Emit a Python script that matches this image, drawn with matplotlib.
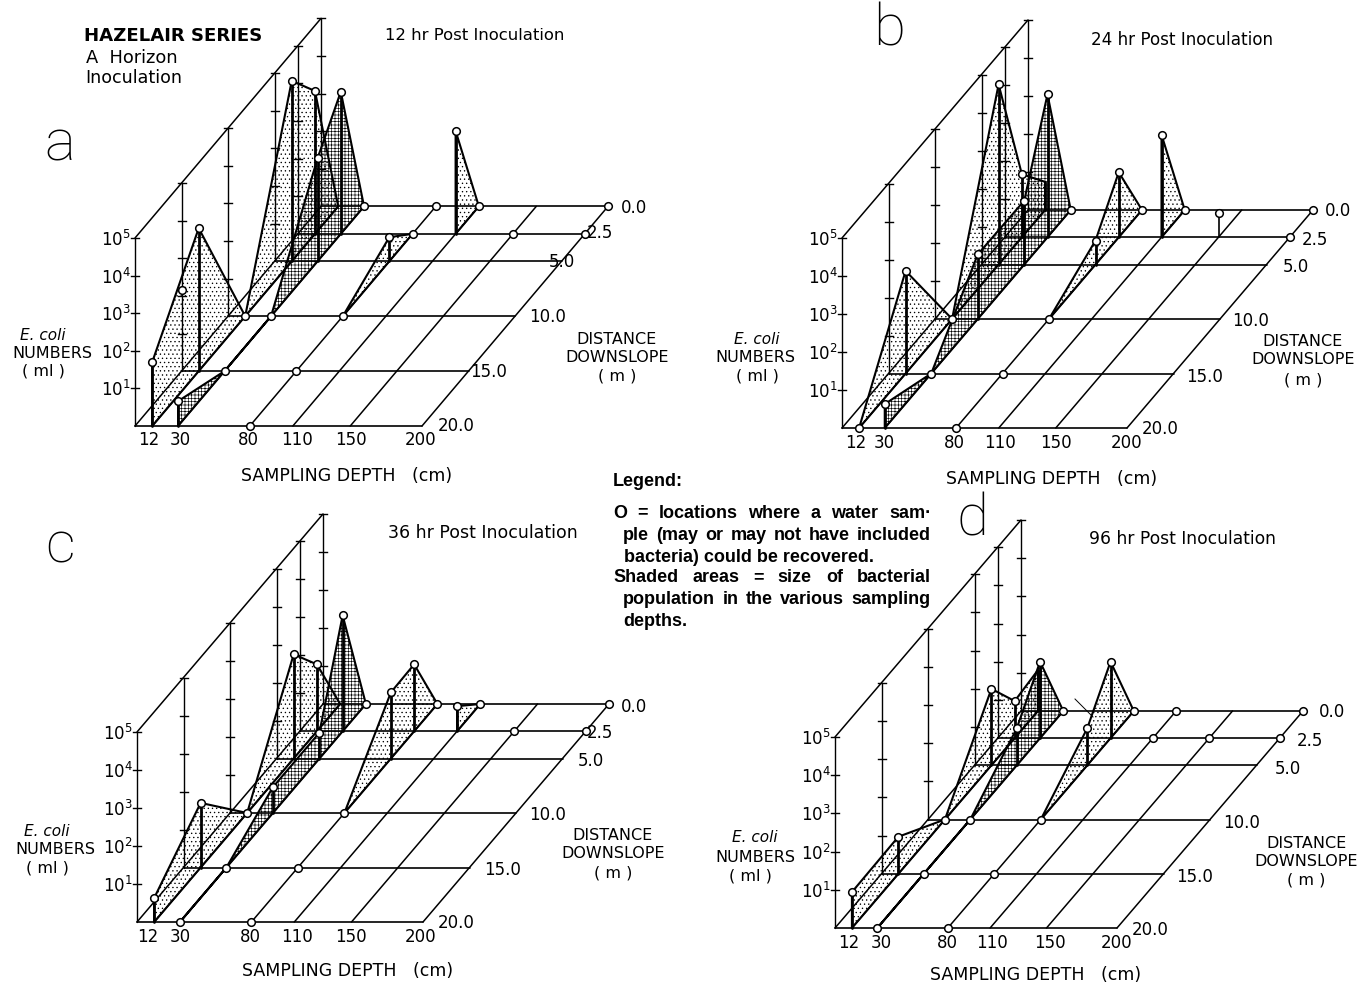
import matplotlib
matplotlib.use('Agg')
import matplotlib.pyplot as plt
from matplotlib.patches import Polygon

plt.rcParams['font.family'] = ['DejaVu Sans']
plt.rcParams['mathtext.fontset'] = 'dejavusans'
plt.rcParams['hatch.linewidth'] = 0.45

# axis values
depths = [0, 12, 30, 80, 110, 150, 200]
depth_labels = ['12', '30', '80', '110', '150', '200']
distances = [0.0, 2.5, 5.0, 10.0, 15.0, 20.0]
distance_labels = ['0.0', '2.5', '5.0', '10.0', '15.0', '20.0']
decades = [1, 2, 3, 4, 5]

# (depth, distance downslope, log10 numbers)
a_profiles = [
    (110, [2.5, 0], [2.74, 0]),
    (80, [10, 5, 2.5], [0, 0.64, 0]),
    (30, [20, 15, 10, 5, 2.5, 0], [0.66, 0, 0, 2.74, 3.78, 0]),
    (12, [20, 15, 10, 5, 2.5, 0], [1.7, 3.8, 0, 4.8, 3.8, 0]),
]
a_circles = [
    (12, 20, 1.7), (0, 15, 2.15), (12, 15, 3.8), (12, 10, 0), (12, 5, 4.8), (12, 2.5, 3.8),
    (30, 20, 0.66), (30, 15, 0), (30, 10, 0), (30, 5, 2.74), (30, 2.5, 3.78), (30, 0, 0),
    (80, 20, 0), (80, 15, 0), (80, 10, 0), (80, 5, 0.64), (80, 2.5, 0), (80, 0, 0),
    (110, 2.5, 2.74), (110, 0, 0), (150, 2.5, 0), (200, 2.5, 0), (200, 0, 0),
]

b_profiles = [
    (110, [2.5, 0], [2.7, 0]),
    (80, [10, 5, 2.5, 0], [0, 0.63, 1.71, 0]),
    (30, [20, 15, 10, 5, 2.5, 0], [0.63, 0, 1.7, 1.68, 3.76, 0]),
    (12, [20, 15, 10, 5, 2.5, 0], [0, 2.7, 0, 4.74, 1.66, 0.74]),
]
b_circles = [
    (12, 20, 0), (12, 15, 2.7), (12, 10, 0), (12, 5, 4.74), (12, 2.5, 1.66),
    (30, 20, 0.63), (30, 15, 0), (30, 10, 1.7), (30, 5, 1.68), (30, 2.5, 3.76), (30, 0, 0),
    (80, 20, 0), (80, 15, 0), (80, 10, 0), (80, 5, 0.63), (80, 2.5, 1.71), (80, 0, 0),
    (110, 2.5, 2.7), (110, 0, 0), (150, 2.5, 0.65), (200, 2.5, 0), (200, 0, 0),
]
b_stems = [(150, 2.5, 0.65)]

c_profiles = [
    (110, [2.5, 0], [0.66, 0]),
    (80, [10, 5, 2.5, 0], [0, 1.74, 1.76, 0]),
    (30, [20, 15, 10, 5, 2.5, 0], [0, 0, 0.68, 0.68, 3.05, 0]),
    (12, [20, 15, 10, 5, 2.5, 0], [0.63, 1.7, 0, 2.74, 1.76, 0]),
]
c_circles = [
    (12, 20, 0.63), (12, 15, 1.7), (12, 10, 0), (12, 5, 2.74), (12, 2.5, 1.76),
    (30, 20, 0), (30, 15, 0), (30, 10, 0.68), (30, 5, 0.68), (30, 2.5, 3.05), (30, 0, 0),
    (80, 20, 0), (80, 15, 0), (80, 10, 0), (80, 5, 1.74), (80, 2.5, 1.76), (80, 0, 0),
    (110, 2.5, 0.66), (110, 0, 0), (150, 2.5, 0), (200, 2.5, 0), (200, 0, 0),
]

d_profiles = [
    (80, [10, 5, 2.5, 0], [0, 0.97, 2.0, 0]),
    (30, [20, 15, 10, 5, 2.5, 0], [0, 0, 0, 0.97, 2.0, 0]),
    (12, [20, 15, 10, 5, 2.5, 0], [0.94, 0.97, 0, 2.0, 0.97, 1.07]),
]
d_circles = [
    (12, 20, 0.94), (12, 15, 0.97), (12, 10, 0), (12, 5, 2.0), (12, 2.5, 0.97),
    (30, 20, 0), (30, 15, 0), (30, 10, 0), (30, 5, 0.97), (30, 2.5, 2.0), (30, 0, 0),
    (80, 20, 0), (80, 15, 0), (80, 10, 0), (80, 5, 0.97), (80, 2.5, 2.0), (80, 0, 0),
    (110, 2.5, 0), (110, 0, 0), (150, 2.5, 0), (200, 2.5, 0), (200, 0, 0),
]

titles = ['12 hr Post Inoculation', '24 hr Post Inoculation', '36 hr Post Inoculation', '96 hr Post Inoculation']
panel_letters = ['a', 'b', 'c', 'd']

legend_lines = [
    ('O = locations where a water sam·', 613, 931, 513),
    ('ple (may or may not have included', 623, 931, 535),
    ('bacteria) could be recovered.', 624, None, 557),
    ('Shaded areas = size of bacterial', 613, 931, 578),
    ('population in the various sampling', 623, 931, 599),
    ('depths.', 623, None, 621),
]

# layout of each panel, in figure pixels
panels = [
    dict(x0=135, y0=426, kd=1.435, kx=9.3, ky=10.98, kz=37.6,
         profiles=a_profiles, circles=a_circles, stems=[],
         title=(385, 35, 179), letter=(60, 145),
         depth_x=[149, 180, 248, 297, 351, 421], depth_y=440,
         dist_xy=[(634, 208), (600, 233), (562, 262), (548, 317), (489, 372), (456, 426)],
         xlabel=(347, 476), ecoli=(43, 336), numbers=(52, 353), ml=(43, 371),
         dlabel=(617, 339), dlabel2=(617, 357), dm=(617, 376)),
    dict(x0=842, y0=428, kd=1.425, kx=9.3, ky=10.9, kz=38,
         profiles=b_profiles, circles=b_circles, stems=b_stems,
         title=(1091, 40, 182), letter=(889, 30),
         depth_x=[856, 884, 954, 1000, 1056, 1127], depth_y=443,
         dist_xy=[(1338, 211), (1315, 240), (1296, 267), (1251, 321), (1205, 377), (1160, 429)],
         xlabel=(1052, 479), ecoli=(757, 339), numbers=(755, 358), ml=(757, 376),
         dlabel=(1303, 342), dlabel2=(1303, 360), dm=(1303, 380)),
    dict(x0=137, y0=922, kd=1.43, kx=9.3, ky=10.9, kz=38,
         profiles=c_profiles, circles=c_circles, stems=[],
         title=(388, 533, 189), letter=(60, 547),
         depth_x=[148, 180, 250, 297, 351, 421], depth_y=937,
         dist_xy=[(634, 707), (600, 733), (591, 761), (548, 815), (503, 870), (456, 923)],
         xlabel=(348, 971), ecoli=(47, 832), numbers=(55, 850), ml=(47, 868),
         dlabel=(613, 836), dlabel2=(613, 854), dm=(613, 873)),
    dict(x0=835, y0=928, kd=1.41, kx=9.3, ky=10.85, kz=38.2,
         profiles=d_profiles, circles=d_circles, stems=[],
         title=(1089, 539, 186), letter=(972, 520),
         depth_x=[849, 881, 947, 992, 1050, 1117], depth_y=943,
         dist_xy=[(1332, 712), (1310, 741), (1288, 769), (1242, 823), (1195, 877), (1150, 930)],
         xlabel=(1036, 975), ecoli=(755, 838), numbers=(755, 857), ml=(750, 876),
         dlabel=(1306, 844), dlabel2=(1306, 861), dm=(1306, 880)),
]


def project(p, depth, dist, z=0):
    # oblique projection of (depth, distance, log count) onto the page
    x = p['x0'] + p['kd'] * depth + p['kx'] * (20 - dist)
    y = p['y0'] - p['ky'] * (20 - dist) - p['kz'] * z
    return x, y


def line3d(ax, p, pts, lw=1.0):
    xs, ys = zip(*[project(p, *q) for q in pts])
    ax.plot(xs, ys, color='black', lw=lw, solid_capstyle='round', zorder=3)


def put_width(ax, x, y, s, width, **kw):
    # shrink or grow the font so a line of text fills its printed width
    t = ax.text(x, y, s, ha='left', va='center', **kw)
    w = t.get_window_extent(renderer).width
    t.set_fontsize(t.get_fontsize() * width / w)
    return t


fig = plt.figure(figsize=(13.72, 9.85), dpi=100, facecolor='white')
ax = fig.add_axes([0, 0, 1, 1])
ax.set_xlim(0, 1372)
ax.set_ylim(985, 0)
ax.axis('off')
renderer = fig.canvas.get_renderer()

for i, p in enumerate(panels):
    # floor grid
    for d in depths:
        line3d(ax, p, [(d, 20), (d, 0)], 1.1)
    for s in distances:
        line3d(ax, p, [(0, s), (200, s)], 1.2)

    # back wall with decade ticks
    line3d(ax, p, [(0, 20, 5), (0, 0, 5)], 1.1)
    for s in [20, 15, 10, 5, 2.5, 0]:
        line3d(ax, p, [(0, s, 0), (0, s, 5)], 1.0)
        for z in decades:
            x, y = project(p, 0, s, z)
            ax.plot([x - 4, x + 4], [y, y], color='black', lw=1.0, zorder=3)

    # bacterial population sheets
    for depth, ss, zs in p['profiles']:
        verts = [project(p, depth, s, z) for s, z in zip(ss, zs)]
        verts += [project(p, depth, ss[-1]), project(p, depth, ss[0])]
        hatch = '+++++' if depth == 30 else '....'
        ax.add_patch(Polygon(verts, closed=True, facecolor='none', edgecolor='black',
                             hatch=hatch, lw=1.5, zorder=4))
        for s, z in zip(ss, zs):
            if z > 0:
                line3d(ax, p, [(depth, s, 0), (depth, s, z)], 2.0)
    for depth, s, z in p['stems']:
        line3d(ax, p, [(depth, s, 0), (depth, s, z)], 1.2)

    # sampling locations
    cx, cy = zip(*[project(p, *c) for c in p['circles']])
    ax.plot(cx, cy, 'o', ms=5.5, mfc='white', mec='black', mew=1.1, ls='none', zorder=6)

    # text
    tx, ty, tw = p['title']
    put_width(ax, tx, ty, titles[i], tw, fontsize=10)
    ax.text(*p['letter'], panel_letters[i], family='Roboto', fontweight='light', fontsize=42,
            ha='center', va='center')
    for x, lab in zip(p['depth_x'], depth_labels):
        ax.text(x, p['depth_y'], lab, fontsize=12, ha='center', va='center')
    for (x, y), lab in zip(p['dist_xy'], distance_labels):
        ax.text(x, y, lab, fontsize=12, ha='center', va='center')
    for z in decades:
        x, y = project(p, 0, 20, z)
        ax.text(x - 4, y + 2, r'$\mathregular{10^{%d}}$' % z, fontsize=12, ha='right', va='center')
    ax.text(*p['xlabel'], 'SAMPLING DEPTH   (cm)', fontsize=12.5, ha='center', va='center')
    ax.text(*p['ecoli'], 'E. coli', fontsize=11, style='italic', ha='center', va='center')
    ax.text(*p['numbers'], 'NUMBERS', fontsize=11.5, ha='center', va='center')
    ax.text(*p['ml'], '( ml )', fontsize=11.5, ha='center', va='center')
    ax.text(*p['dlabel'], 'DISTANCE', fontsize=11.5, ha='center', va='center')
    ax.text(*p['dlabel2'], 'DOWNSLOPE', fontsize=11.5, ha='center', va='center')
    ax.text(*p['dm'], '( m )', fontsize=11.5, ha='center', va='center')

# series name, panel a
put_width(ax, 84, 36, 'HAZELAIR SERIES', 178, fontsize=12, fontweight='bold')
put_width(ax, 86, 58, 'A  Horizon', 92, fontsize=11)
put_width(ax, 85, 78, 'Inoculation', 97, fontsize=11)

# stray pointer stroke printed in panel d
ax.plot([1075, 1093], [699, 717], color='black', lw=0.7, zorder=3)

# legend block, justified like the printed column
ax.text(613, 482, 'Legend:', family='Liberation Sans', fontweight='bold', fontsize=13,
        ha='left', va='center')
for line, x0, x1, y in legend_lines:
    if x1 is None:
        ax.text(x0, y, line, family='Liberation Sans', fontweight='bold', fontsize=13,
                ha='left', va='center')
        continue
    words = line.split()
    texts = [ax.text(x0, y, w, family='Liberation Sans', fontweight='bold', fontsize=13,
                     ha='left', va='center') for w in words]
    widths = [t.get_window_extent(renderer).width for t in texts]
    gap = (x1 - x0 - sum(widths)) / (len(words) - 1)
    x = x0
    for t, w in zip(texts, widths):
        t.set_x(x)
        x += w + gap

fig.savefig('out.png', dpi=100)
